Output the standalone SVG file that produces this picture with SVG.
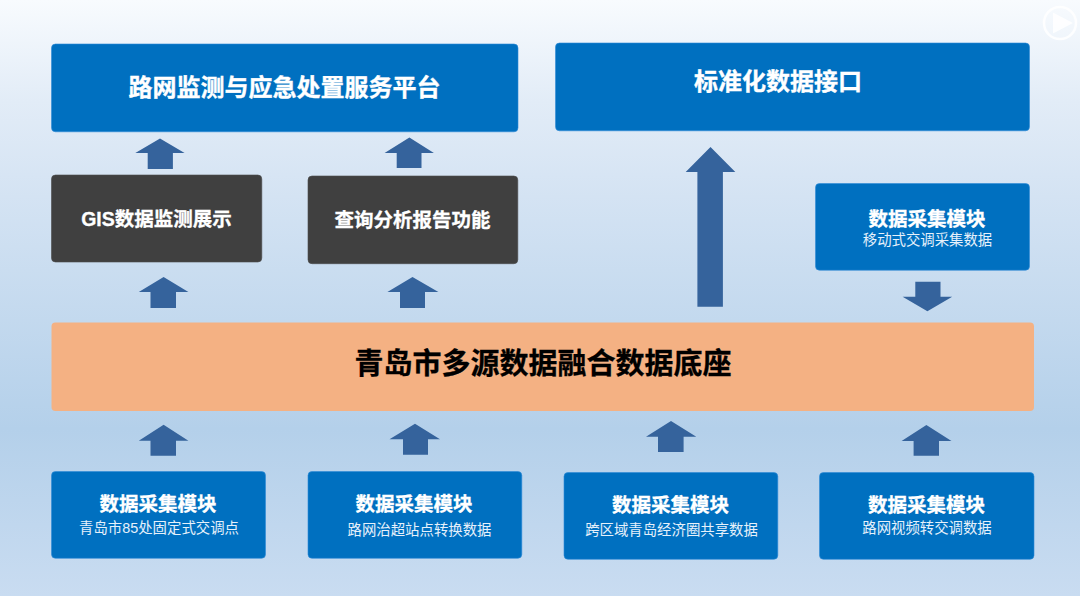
<svg xmlns="http://www.w3.org/2000/svg" width="1080" height="596" viewBox="0 0 1080 596">
<style>
text{font-family:"Liberation Sans","Noto Sans CJK SC",sans-serif;text-anchor:middle;fill:#fff}
.blue{fill:#0070c0;stroke:#2e8ad6;stroke-width:.6}
.dark{fill:#404040;stroke:#4a4a4a;stroke-width:.6}
.base{fill:#f4b183}
.arrow{fill:#35639c}
.t24{font-size:24px;font-weight:700;stroke:#fff;stroke-width:.35}
.t20{font-size:19.5px;font-weight:700;stroke:#fff;stroke-width:.3}
.sub{font-size:14.4px;fill:#e6f1fb}
.big{font-size:29px;font-weight:700;fill:#000;stroke:#000;stroke-width:.3}
</style>
<defs><linearGradient id="bg" x1="0" y1="0" x2="0" y2="1">
<stop offset="0" stop-color="#f8fbfe"/><stop offset=".17" stop-color="#e2ecf7"/><stop offset=".33" stop-color="#d4e3f3"/><stop offset=".72" stop-color="#b4d0ea"/><stop offset="1" stop-color="#c9dcf1"/>
</linearGradient></defs>
<rect width="1080" height="596" fill="url(#bg)"/>
<g id="play" fill="none" stroke="#fff" stroke-opacity=".85">
<circle cx="1060" cy="23" r="16" stroke-width="2.6"/>
<path d="M1053 12.5L1073 23L1053 33.5Z" fill="#fff" fill-opacity=".85" stroke="none"/>
</g>
<g id="connectors">
<polygon class="arrow" points="160,138.5 184.6,153 172.9,153 172.9,169 147.7,169 147.7,153 135.3,153"/>
<polygon class="arrow" points="409.4,137.5 433.9,153 421.5,153 421.5,168 396.7,168 396.7,153 384.6,153"/>
<polygon class="arrow" points="163.6,277 188.4,292 176,292 176,308 150.5,308 150.5,292 138.8,292"/>
<polygon class="arrow" points="412.5,277 438.4,292 425,292 425,308 400,308 400,292 387.4,292"/>
<polygon class="arrow" points="163.6,424.7 188.4,440.7 176,440.7 176,455.7 150.5,455.7 150.5,440.7 138.8,440.7"/>
<polygon class="arrow" points="415,423.7 440,439.2 428,439.2 428,454.7 403,454.7 403,439.2 389.5,439.2"/>
<polygon class="arrow" points="671,421 696.3,436.7 683.6,436.7 683.6,452 658,452 658,436.7 646,436.7"/>
<polygon class="arrow" points="926.4,425 951.5,441 939,441 939,455.7 913.6,455.7 913.6,441 901.6,441"/>
<polygon class="arrow" points="710.5,147 735.3,172 722.9,172 722.9,306.7 697.4,306.7 697.4,172 685.7,172"/>
<polygon class="arrow" points="915.3,281.7 940.5,281.7 940.5,296.7 952.2,296.7 927.4,311.3 902.6,296.7 915.3,296.7"/>
</g>
<g id="platform"><rect class="blue" x="51.5" y="44" width="466.5" height="87.8" rx="4"/><text class="t24" x="284.5" y="96">路网监测与应急处置服务平台</text></g>
<g id="interface"><rect class="blue" x="555.5" y="43" width="474" height="87.8" rx="4"/><text class="t24" x="778" y="90">标准化数据接口</text></g>
<g id="gis"><rect class="dark" x="51.5" y="175" width="210.3" height="87" rx="4"/><text class="t20" x="156.5" y="226">GIS数据监测展示</text></g>
<g id="query"><rect class="dark" x="308" y="176" width="209.8" height="87.7" rx="4"/><text class="t20" x="412.5" y="227">查询分析报告功能</text></g>
<g id="mobile"><rect class="blue" x="815.5" y="183.5" width="214" height="86.7" rx="4"/><text class="t20" x="927" y="226">数据采集模块</text><text class="sub" x="927.5" y="245">移动式交调采集数据</text></g>
<g id="base"><rect class="base" x="51.5" y="322.5" width="982.5" height="88.5" rx="4"/><text class="big" x="543" y="374">青岛市多源数据融合数据底座</text></g>
<g id="m1"><rect class="blue" x="51.5" y="471.5" width="214" height="86.8" rx="4"/><text class="t20" x="158" y="510.5">数据采集模块</text><text class="sub" x="159" y="533">青岛市85处固定式交调点</text></g>
<g id="m2"><rect class="blue" x="308" y="471.5" width="213.8" height="86.8" rx="4"/><text class="t20" x="414" y="510.5">数据采集模块</text><text class="sub" x="419.5" y="535">路网治超站点转换数据</text></g>
<g id="m3"><rect class="blue" x="564" y="472.5" width="213.8" height="86.8" rx="4"/><text class="t20" x="670.5" y="512">数据采集模块</text><text class="sub" x="671.5" y="535">跨区域青岛经济圈共享数据</text></g>
<g id="m4"><rect class="blue" x="819.5" y="472.5" width="214.5" height="86.8" rx="4"/><text class="t20" x="926.5" y="512">数据采集模块</text><text class="sub" x="927" y="533">路网视频转交调数据</text></g>
</svg>
